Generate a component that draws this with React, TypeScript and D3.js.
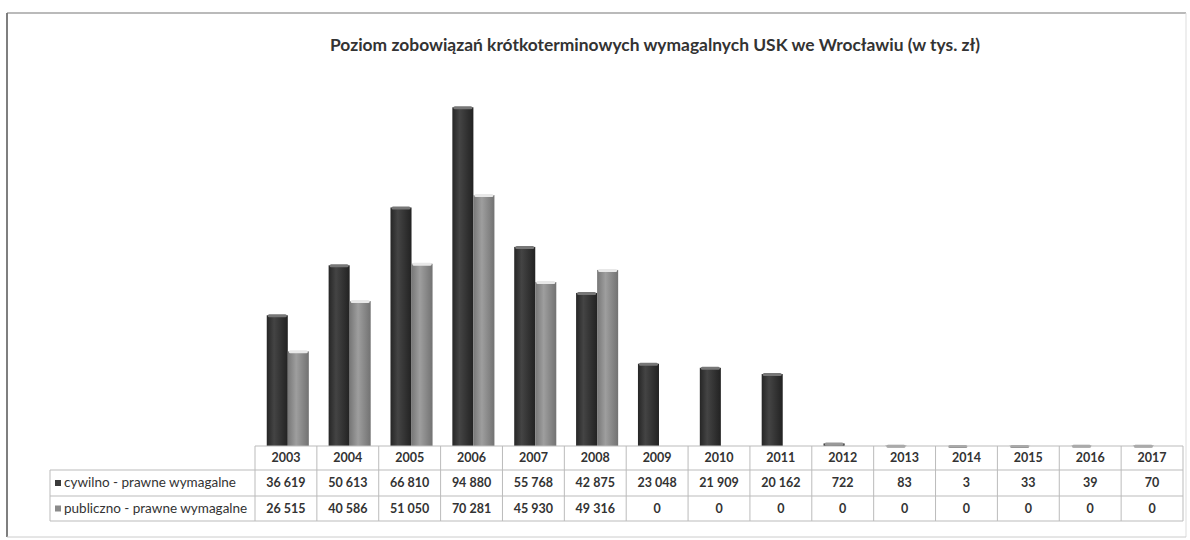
import React from 'react';
import * as d3 from 'd3';

const years = ['2003', '2004', '2005', '2006', '2007', '2008', '2009', '2010', '2011', '2012', '2013', '2014', '2015', '2016', '2017'];
const cywilno = [36619, 50613, 66810, 94880, 55768, 42875, 23048, 21909, 20162, 722, 83, 3, 33, 39, 70];
const publiczno = [26515, 40586, 51050, 70281, 45930, 49316, 0, 0, 0, 0, 0, 0, 0, 0, 0];
const seriesNames = ['cywilno - prawne wymagalne', 'publiczno - prawne wymagalne'];
const title = 'Poziom zobowiązań krótkoterminowych wymagalnych USK we Wrocławiu (w tys. zł)';

const W = 1190;
const H = 540;
const font = 'Lato, "Open Sans", sans-serif';

const fmt = d3.formatLocale({ decimal: ',', thousands: ' ', grouping: [3], currency: ['', ' zł'] }).format(',d');

const App = () => {
  const tableLeft = 255;
  const tableRight = 1183;
  const legendLeft = 50;
  const baseline = 446;
  const rowTops = [446, 470, 496, 521];

  const x = d3.scaleBand().domain(years).range([tableLeft, tableRight]);
  const bw = x.bandwidth();
  const inner = d3.scaleBand<number>().domain([0, 1]).range([bw * 0.19, bw * 0.87]);
  const y = d3.scaleLinear().domain([0, 100000]).range([baseline, 89]);

  const series = [cywilno, publiczno];
  const grads = ['gradDark', 'gradLight'];
  const caps = ['#777', '#e8e8e8'];
  const legendFill = ['#3a3a3a', '#8a8a8a'];

  return (
    <svg width={W} height={H} style={{ position: 'absolute', left: 0, top: 0, background: '#fff' }}>
      <defs>
        <linearGradient id="gradDark" x1="0" x2="1" y1="0" y2="0">
          <stop offset="0" stopColor="#262626" />
          <stop offset="0.35" stopColor="#444" />
          <stop offset="1" stopColor="#222" />
        </linearGradient>
        <linearGradient id="gradLight" x1="0" x2="1" y1="0" y2="0">
          <stop offset="0" stopColor="#777" />
          <stop offset="0.4" stopColor="#9e9e9e" />
          <stop offset="1" stopColor="#727272" />
        </linearGradient>
      </defs>

      {/* frame */}
      <line x1={7} x2={7} y1={13} y2={537} stroke="#555" strokeWidth={1.5} />
      <line x1={7} x2={1186} y1={13} y2={13} stroke="#777" strokeWidth={1.2} />
      <line x1={1186} x2={1186} y1={13} y2={537} stroke="#ddd" strokeWidth={1} />
      <line x1={7} x2={1186} y1={537} y2={537} stroke="#ccc" strokeWidth={1} />

      <text
        x={655}
        y={51}
        textAnchor="middle"
        fontFamily={font}
        fontWeight="bold"
        fontSize={17}
        fill="#333"
        textLength={650}
        lengthAdjust="spacingAndGlyphs"
      >
        {title}
      </text>

      {/* bars */}
      {series.map((vals, s) =>
        vals.map((v, i) => {
          const bx = (x(years[i]) as number) + (inner(s) as number);
          const w = inner.bandwidth();
          const top = y(v);
          if (s === 1 && v === 0) return null;
          return (
            <g key={`${s}-${i}`}>
              <rect x={bx} y={top} width={w} height={baseline - top} fill={`url(#${grads[s]})`} />
              <rect x={bx + 1} y={top - 1} width={w - 2} height={3} rx={1.5} fill={v < 1000 ? '#999' : caps[s]} />
            </g>
          );
        })
      )}

      {/* data table */}
      <g fontFamily={font} fontSize={12.5} fill="#333" fontWeight="bold">
        <line x1={tableLeft} x2={tableRight} y1={rowTops[0]} y2={rowTops[0]} stroke="#bbb" />
        {rowTops.slice(1).map((ry) => (
          <line key={ry} x1={legendLeft} x2={tableRight} y1={ry} y2={ry} stroke="#bbb" />
        ))}
        <line x1={legendLeft} x2={legendLeft} y1={rowTops[1]} y2={rowTops[3]} stroke="#bbb" />
        {years.map((yr) => (
          <line key={yr} x1={x(yr) as number} x2={x(yr) as number} y1={rowTops[0]} y2={rowTops[3]} stroke="#bbb" />
        ))}
        <line x1={tableRight} x2={tableRight} y1={rowTops[0]} y2={rowTops[3]} stroke="#bbb" />

        {years.map((yr) => (
          <text key={yr} x={(x(yr) as number) + bw / 2} y={(rowTops[0] + rowTops[1]) / 2 + 4} textAnchor="middle">
            {yr}
          </text>
        ))}
        {series.map((vals, s) =>
          vals.map((v, i) => (
            <text
              key={`t${s}-${i}`}
              x={(x(years[i]) as number) + bw / 2}
              y={(rowTops[s + 1] + rowTops[s + 2]) / 2 + 4}
              textAnchor="middle"
            >
              {fmt(v)}
            </text>
          ))
        )}
        {seriesNames.map((name, s) => (
          <g key={name}>
            <rect x={legendLeft + 5} y={(rowTops[s + 1] + rowTops[s + 2]) / 2 - 3} width={6} height={6} fill={legendFill[s]} />
            <text x={legendLeft + 14} y={(rowTops[s + 1] + rowTops[s + 2]) / 2 + 4} fontWeight="normal" fontSize={13.5}>
              {name}
            </text>
          </g>
        ))}
      </g>
    </svg>
  );
};

export default App;
